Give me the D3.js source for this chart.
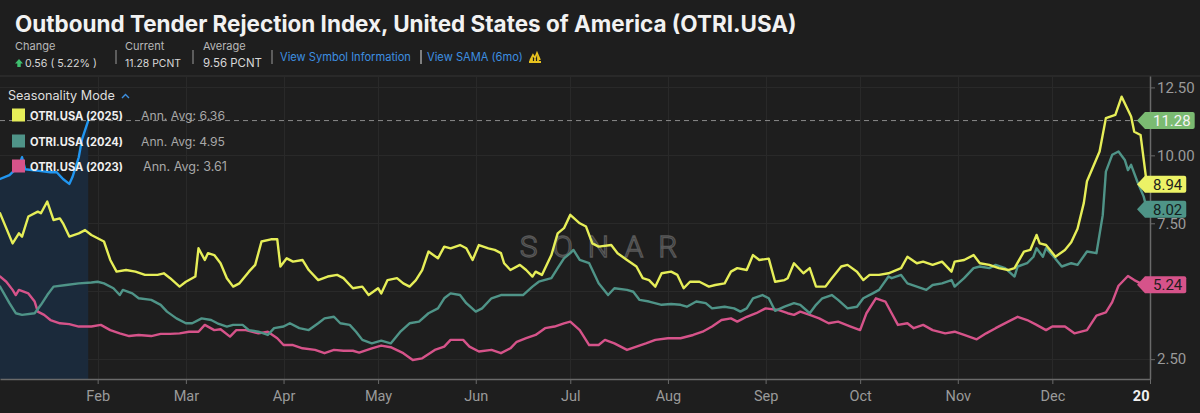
<!DOCTYPE html>
<html>
<head>
<meta charset="utf-8">
<script src="https://cdn.jsdelivr.net/npm/d3@7"></script>
<style>
  html, body { margin: 0; padding: 0; background: #1e1e1e; }
  svg { display: block; }
</style>
</head>
<body>
<svg id="chart" width="1200" height="413"></svg>
<script>
// Values: [day of year, OTRI %]
const otri2023 = [[0,5.54],[2,5.35],[4,5.05],[5,4.86],[6,5.05],[9,4.92],[11,4.62],[12,4.25],[14,4.13],[16,3.94],[19,3.82],[22,3.79],[25,3.70],[29,3.70],[32,3.76],[35,3.57],[38,3.45],[41,3.35],[44,3.39],[48,3.35],[51,3.43],[54,3.43],[57,3.45],[60,3.51],[63,3.51],[65,3.76],[68,3.57],[70,3.60],[73,3.33],[75,3.57],[78,3.57],[82,3.45],[85,3.51],[88,3.27],[90,3.02],[93,3.02],[96,2.90],[100,2.84],[103,2.72],[106,2.84],[109,2.81],[112,2.81],[114,2.74],[118,2.90],[121,3.00],[124,2.94],[128,2.72],[131,2.47],[134,2.53],[138,2.84],[141,2.96],[143,3.21],[147,3.21],[149,2.96],[152,2.78],[156,2.84],[159,2.72],[162,2.90],[164,3.14],[167,3.27],[170,3.39],[173,3.64],[176,3.70],[179,3.82],[181,3.88],[184,3.57],[187,3.02],[190,3.02],[192,3.21],[195,3.08],[199,2.84],[202,2.96],[205,3.08],[208,3.21],[212,3.27],[216,3.27],[220,3.39],[223,3.51],[226,3.70],[229,3.94],[232,4.00],[234,3.88],[237,4.06],[240,4.19],[243,4.37],[247,4.31],[250,4.19],[252,4.13],[254,4.25],[257,4.13],[260,4.00],[263,3.82],[266,3.88],[270,3.70],[273,3.57],[275,4.19],[278,4.74],[281,4.62],[283,4.19],[285,3.76],[288,3.82],[290,3.64],[293,3.76],[296,3.57],[300,3.45],[303,3.51],[306,3.39],[310,3.23],[313,3.45],[316,3.64],[320,3.88],[323,4.06],[326,3.94],[329,3.76],[332,3.57],[334,3.70],[338,3.70],[341,3.45],[345,3.57],[348,4.10],[351,4.22],[353,4.60],[355,5.20],[358,5.56],[360,5.41],[362,5.29],[364,5.24]];

const otri2024 = [[0,5.17],[3,4.56],[5,4.19],[7,4.13],[11,4.19],[13,4.50],[15,4.86],[17,5.17],[21,5.23],[25,5.29],[29,5.32],[31,5.35],[33,5.29],[36,5.11],[38,4.86],[39,5.05],[42,4.92],[44,4.74],[48,4.68],[51,4.50],[53,4.25],[56,4.00],[59,3.82],[61,3.82],[64,4.00],[67,3.94],[69,3.82],[72,3.70],[74,3.76],[77,3.76],[79,3.57],[82,3.51],[85,3.39],[87,3.64],[90,3.70],[92,3.82],[95,3.64],[98,3.57],[101,3.82],[103,4.00],[106,4.06],[108,3.82],[111,3.76],[113,3.51],[115,3.21],[118,3.08],[121,3.18],[124,3.08],[127,3.50],[130,3.82],[133,3.88],[136,4.19],[139,4.37],[141,4.74],[143,4.92],[146,4.86],[148,4.56],[151,4.25],[153,4.37],[156,4.74],[159,4.86],[162,4.86],[166,4.86],[169,5.17],[171,5.35],[175,5.48],[177,5.85],[179,6.21],[181,6.40],[182,6.52],[184,6.15],[187,6.03],[190,5.29],[193,4.86],[195,5.11],[199,5.05],[201,4.98],[203,4.68],[206,4.62],[210,4.50],[213,4.53],[216,4.50],[218,4.43],[221,4.62],[224,4.56],[226,4.37],[230,4.43],[233,4.37],[235,4.25],[237,4.37],[239,4.74],[242,4.86],[244,4.74],[246,4.28],[249,4.43],[252,4.56],[254,4.50],[257,4.19],[259,4.50],[261,4.74],[264,4.86],[266,4.68],[269,4.37],[272,4.43],[274,4.74],[277,4.92],[279,5.05],[282,5.54],[283,5.48],[286,5.60],[288,5.29],[291,5.17],[294,5.05],[296,5.23],[299,5.29],[302,5.41],[303,5.17],[306,5.48],[309,5.85],[311,5.91],[314,5.85],[316,5.97],[319,5.85],[322,5.54],[323,5.91],[326,6.03],[328,6.27],[329,6.58],[331,6.27],[332,6.58],[334,6.33],[337,5.91],[340,6.03],[342,5.97],[345,6.46],[348,6.40],[350,7.80],[351,9.40],[353,10.02],[355,10.14],[357,9.83],[358,9.46],[359,9.65],[361,9.03],[363,8.48],[364,8.02]];

const otri2025 = [[0,7.87],[4,6.76],[6,7.13],[7,7.01],[9,7.75],[12,7.93],[13,7.87],[15,8.30],[17,7.62],[19,7.68],[20,7.50],[22,7.01],[25,7.13],[27,7.25],[29,7.07],[31,6.95],[33,6.83],[35,6.15],[37,5.72],[40,5.78],[43,5.72],[46,5.60],[50,5.60],[52,5.66],[54,5.48],[57,5.17],[59,5.35],[62,5.54],[63,6.58],[65,6.15],[66,6.40],[68,6.33],[70,6.03],[72,5.48],[74,5.17],[76,5.29],[79,5.72],[81,5.97],[83,6.83],[86,6.91],[88,6.91],[89,5.91],[91,6.21],[93,6.09],[96,6.15],[98,5.78],[101,5.41],[104,5.54],[107,5.60],[109,5.48],[112,5.11],[115,5.17],[117,4.86],[120,5.11],[121,4.92],[123,5.41],[126,5.48],[128,5.29],[130,5.17],[132,5.41],[134,5.78],[136,6.46],[139,6.21],[141,6.64],[143,6.58],[146,6.70],[148,6.58],[150,6.15],[152,6.70],[155,6.58],[157,6.52],[159,6.40],[160,6.03],[162,5.78],[165,5.97],[167,5.78],[169,5.54],[170,5.72],[172,5.60],[175,6.33],[177,7.13],[179,7.32],[181,7.81],[184,7.50],[186,7.38],[188,6.76],[190,6.64],[194,6.70],[196,6.40],[199,6.15],[202,5.91],[204,5.48],[206,5.41],[208,5.17],[210,5.66],[213,5.72],[215,5.60],[217,5.11],[219,5.35],[222,5.35],[225,5.17],[227,5.23],[230,5.29],[232,5.72],[234,5.85],[237,5.78],[239,6.33],[241,6.15],[244,6.20],[246,5.35],[249,5.41],[250,5.48],[252,6.03],[255,5.66],[257,5.85],[259,5.17],[262,5.17],[264,5.48],[267,5.91],[269,5.97],[272,5.72],[274,5.41],[276,5.60],[279,5.60],[282,5.66],[286,5.85],[288,6.27],[291,6.03],[293,6.09],[296,5.97],[299,6.09],[302,5.72],[303,6.09],[306,6.15],[309,6.33],[311,6.03],[314,5.97],[317,5.85],[320,5.78],[322,5.85],[325,6.46],[327,6.52],[329,7.07],[330,6.76],[332,6.70],[335,6.27],[338,6.52],[340,6.80],[342,7.30],[344,8.25],[345,9.05],[349,10.14],[351,11.37],[354,11.49],[356,12.16],[359,11.43],[360,10.87],[362,10.75],[364,8.94]];

// current year (2026) so far
const otri2026 = [[0,9.13],[3,9.27],[6,9.60],[7,9.93],[8,9.49],[13,9.42],[16,9.38],[18,9.38],[20,9.13],[22,8.95],[23,9.20],[25,9.93],[26,10.58],[28,11.28]];

const legendNames = ['OTRI.USA (2025)', 'OTRI.USA (2024)', 'OTRI.USA (2023)'];
const annualAvg = ['6.36', '4.95', '3.61'];
const yTicks = [2.5, 5, 7.5, 10, 12.5];
const tickLabels = ['Feb','Mar','Apr','May','Jun','Jul','Aug','Sep','Oct','Nov','Dec','20'];
const lastValues = [11.28, 8.94, 8.02, 5.24];

const W = 1200, H = 413;
const plot = {left: 0, right: 1150, top: 76, bottom: 379};
const colors = {y2025: '#e6ee58', y2024: '#4f9488', y2023: '#d6538a', y2026: '#2196f0'};

const svg = d3.select('#chart');
svg.append('rect').attr('width', W).attr('height', H).attr('fill', '#1e1e1e');

const dayDate = d => new Date(Date.UTC(2025, 0, 1 + d));
const x = d3.scaleUtc()
  .domain([Date.UTC(2025, 0, 1), Date.UTC(2026, 0, 1)])
  .range([plot.left, plot.right]);
const y = d3.scaleLinear()
  .domain([1.77, 12.92])
  .range([plot.bottom, plot.top]);

function fit(sel, w) {
  const len = sel.node().getComputedTextLength();
  const fs = parseFloat(sel.attr('font-size'));
  if (len > 0) sel.attr('font-size', (fs * w / len).toFixed(2));
  return sel;
}

// Header
const head = svg.append('g').attr('font-family', 'Inter, "Open Sans", sans-serif');
fit(head.append('text').attr('x', 15).attr('y', 32).attr('font-size', 22)
  .attr('font-weight', 'bold').attr('fill', '#f2f2f2')
  .text('Outbound Tender Rejection Index, United States of America (OTRI.USA)'), 782);

const stats = [
  {x: 15, label: 'Change', value: '0.56 ( 5.22% )', vx: 25, w: 72},
  {x: 125, label: 'Current', value: '11.28 PCNT', vx: 125, w: 56},
  {x: 203, label: 'Average', value: '9.56 PCNT', vx: 203, w: 59}
];
stats.forEach(s => {
  head.append('text').attr('x', s.x).attr('y', 50).attr('font-size', 11)
    .attr('fill', '#b8b8b8').text(s.label);
  fit(head.append('text').attr('x', s.vx).attr('y', 67).attr('font-size', 12)
    .attr('fill', '#d8d8d8').text(s.value), s.w);
});
// green up arrow
head.append('path').attr('d', 'M19,59 L23,63.5 L20.7,63.5 L20.7,67 L17.3,67 L17.3,63.5 L15,63.5 Z')
  .attr('fill', '#3fbf6f');
[[116, '#9a9a9a'], [193, '#9a9a9a'], [272, '#9a9a9a'], [421, '#e0e0e0']].forEach(([sx, c]) => {
  head.append('line').attr('x1', sx).attr('x2', sx).attr('y1', 50).attr('y2', 64)
    .attr('stroke', c).attr('stroke-width', 1);
});
fit(head.append('text').attr('x', 280).attr('y', 61).attr('font-size', 11.5)
  .attr('fill', '#3d8fe0').text('View Symbol Information'), 131);
fit(head.append('text').attr('x', 427).attr('y', 61).attr('font-size', 11.5)
  .attr('fill', '#3d8fe0').text('View SAMA (6mo)'), 96);
head.append('path')
  .attr('d', 'M530,61 L533,55 L535,58 L537,53 L540,60 M529,62 L541,62 M532,62 L532,58 M535,62 L535,59 M538,62 L538,56')
  .attr('stroke', '#e8c21e').attr('stroke-width', 1.8).attr('fill', 'none');

// Frame and grid
svg.append('line').attr('x1', 0).attr('x2', W).attr('y1', plot.top).attr('y2', plot.top)
  .attr('stroke', '#343434');
const tickDates = d3.utcMonths(Date.UTC(2025, 1, 1), Date.UTC(2026, 0, 2));
const grid = svg.append('g').attr('stroke', '#292929').attr('stroke-width', 1);
grid.selectAll('.vg').data(tickDates).join('line')
  .attr('x1', d => Math.round(x(d)) + 0.5).attr('x2', d => Math.round(x(d)) + 0.5)
  .attr('y1', plot.top).attr('y2', plot.bottom);
grid.selectAll('.hg').data(yTicks).join('line')
  .attr('x1', plot.left).attr('x2', plot.right)
  .attr('y1', d => Math.round(y(d)) + 0.5).attr('y2', d => Math.round(y(d)) + 0.5);

// watermark
svg.append('text').attr('x', 606).attr('y', 257).attr('text-anchor', 'middle')
  .attr('font-family', 'Roboto, sans-serif').attr('font-weight', 300)
  .attr('font-size', 30).attr('letter-spacing', 15)
  .attr('fill', 'none').attr('stroke', '#585858').attr('stroke-width', 1.3)
  .text('SONAR');

const line = d3.line().x(d => x(dayDate(d[0]))).y(d => y(d[1]));
const area = d3.area().x(d => x(dayDate(d[0]))).y0(plot.bottom).y1(d => y(d[1]));

svg.append('path').datum(otri2026).attr('d', area).attr('fill', '#1b2a3b');

// current value reference line
svg.append('line').attr('x1', plot.left).attr('x2', plot.right)
  .attr('y1', y(lastValues[0])).attr('y2', y(lastValues[0]))
  .attr('stroke', '#8a8a8a').attr('stroke-dasharray', '5,4').attr('stroke-width', 1);

[[otri2023, colors.y2023], [otri2024, colors.y2024], [otri2025, colors.y2025], [otri2026, colors.y2026]]
  .forEach(([data, c]) => {
    svg.append('path').datum(data).attr('d', line)
      .attr('fill', 'none').attr('stroke', c).attr('stroke-width', 2.4)
      .attr('stroke-linejoin', 'round').attr('stroke-linecap', 'round');
  });

// Axes
const xAxis = svg.append('g').attr('transform', `translate(0,${plot.bottom})`)
  .call(d3.axisBottom(x).tickValues(tickDates).tickFormat((d, i) => tickLabels[i])
    .tickSize(5).tickSizeOuter(0));
xAxis.select('.domain').attr('stroke', '#6a6a6a').attr('stroke-width', 1.5);
xAxis.selectAll('.tick line').attr('stroke', '#6a6a6a');
xAxis.selectAll('.tick text').attr('fill', '#9a9a9a').attr('font-size', 14.5)
  .attr('font-family', 'Roboto, sans-serif').attr('y', 12);
xAxis.selectAll('.tick').filter((d, i) => i === tickLabels.length - 1).select('text')
  .attr('text-anchor', 'end').attr('dx', -1).attr('fill', '#f0f0f0').attr('font-weight', 'bold');

// the 5.00 label sits fully under the 5.24 tag in the reference, so it is left out
const yAxis = svg.append('g').attr('transform', `translate(${plot.right},0)`)
  .call(d3.axisRight(y).tickValues(yTicks).tickFormat(d => d === 5 ? '' : d3.format('.2f')(d))
    .tickSize(5).tickSizeOuter(0));
yAxis.select('.domain').attr('stroke', '#6a6a6a').attr('stroke-width', 1.5);
yAxis.selectAll('.tick line').attr('stroke', '#6a6a6a');
yAxis.selectAll('.tick text').attr('fill', '#9a9a9a').attr('font-size', 15)
  .attr('font-family', 'Roboto, sans-serif').attr('x', 7);

// Last-value tags
const tagStyle = [
  {fill: '#7bbb72', text: '#f4f4f4'},
  {fill: '#ecf266', text: '#1e1e1e'},
  {fill: '#4e9487', text: '#14201e'},
  {fill: '#d6538a', text: '#1e1e1e'}
];
lastValues.forEach((v, i) => {
  const cy = y(v);
  const g = svg.append('g');
  const path = g.append('path').attr('fill', tagStyle[i].fill);
  const t = g.append('text').attr('x', 1153).attr('y', cy).attr('dy', '0.36em')
    .attr('font-family', 'Roboto, sans-serif').attr('font-size', 15)
    .attr('fill', tagStyle[i].text).text(d3.format('.2f')(v));
  const right = 1153 + t.node().getComputedTextLength() + 4;
  const h = 17, x0 = 1137, x1 = 1145, r = 2;
  path.attr('d', `M${x0},${cy} L${x1},${cy - h / 2} L${right - r},${cy - h / 2} Q${right},${cy - h / 2} ${right},${cy - h / 2 + r} L${right},${cy + h / 2 - r} Q${right},${cy + h / 2} ${right - r},${cy + h / 2} L${x1},${cy + h / 2} Z`);
});

// Legend
const leg = svg.append('g').attr('font-family', 'Inter, "Open Sans", sans-serif');
fit(leg.append('text').attr('x', 8).attr('y', 100).attr('font-size', 12.5)
  .attr('fill', '#dedede').text('Seasonality Mode'), 107);
leg.append('path').attr('d', 'M122,98 L125.5,94.5 L129,98').attr('fill', 'none')
  .attr('stroke', '#3d8fe0').attr('stroke-width', 1.4);
const legColors = [colors.y2025, colors.y2024, colors.y2023];
legendNames.forEach((name, i) => {
  const cy = [115, 141, 166][i];
  leg.append('rect').attr('x', 12).attr('y', cy - 6.5).attr('width', 13).attr('height', 13)
    .attr('fill', legColors[i]);
  fit(leg.append('text').attr('x', 30).attr('y', cy + 4.5).attr('font-size', 11.5)
    .attr('font-weight', 'bold').attr('fill', '#f0f0f0').text(name), 93);
  fit(leg.append('text').attr('x', i === 2 ? 143 : 141).attr('y', cy + 4.5).attr('font-size', 11.5)
    .attr('fill', '#a8a8a8').text('Ann. Avg: ' + annualAvg[i]), 84);
});
</script>
</body>
</html>
